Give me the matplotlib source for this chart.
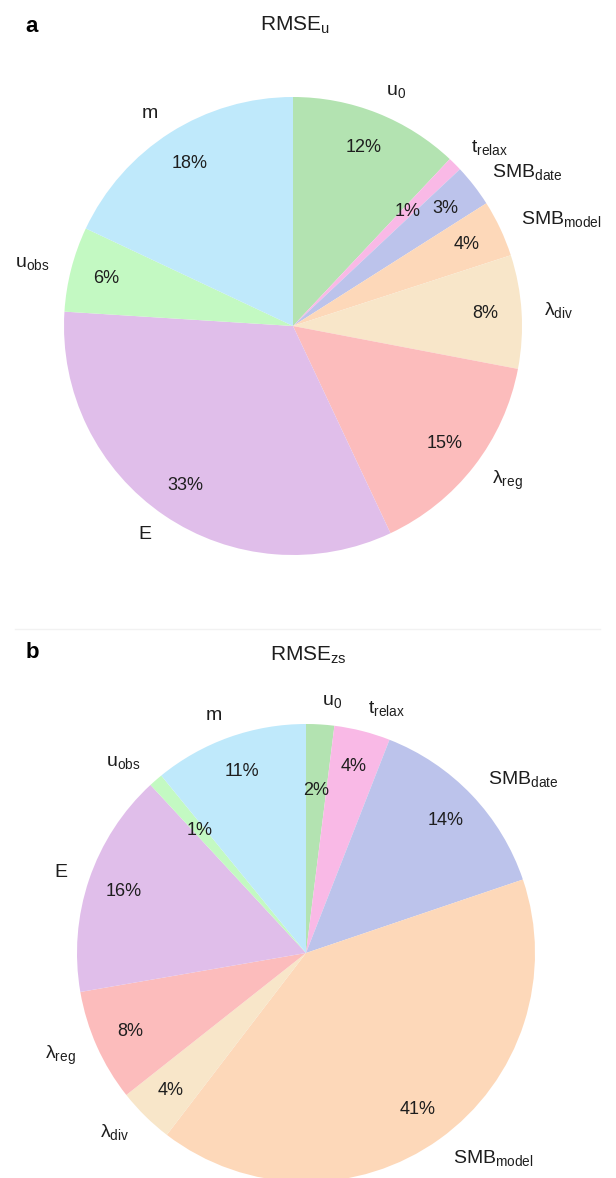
import matplotlib
matplotlib.use("Agg")
import matplotlib.pyplot as plt

plt.rcParams['font.family'] = ['Liberation Sans', 'DejaVu Sans']
plt.rcParams['mathtext.fontset'] = 'custom'
plt.rcParams['mathtext.rm'] = 'Liberation Sans'
plt.rcParams['mathtext.it'] = 'Liberation Sans:italic'
plt.rcParams['mathtext.bf'] = 'Liberation Sans:bold'

# ===================== data =====================
# order: clockwise from 12 o'clock
labels = [r'$\mathrm{u_0}$', r'$\mathrm{t_{relax}}$', r'$\mathrm{SMB_{date}}$',
          r'$\mathrm{SMB_{model}}$', r'$\mathrm{λ_{div}}$', r'$\mathrm{λ_{reg}}$',
          'E', r'$\mathrm{u_{obs}}$', 'm']
rmse_u = [12, 1, 3, 4, 8, 15, 33, 6, 18]
rmse_zs = [2, 4, 14, 41, 4, 8, 16, 1, 11]
colors = ['#b3e3b1', '#f9b9e6', '#bcc3eb', '#fdd8b9', '#f8e6c9',
          '#fcbcbc', '#e0beea', '#c3f9c2', '#bfe9fb']

TXT = '#1e1e1e'
W, H = 616, 1178
PCT_D = 0.84
PCT_D_SMALL = 0.71  # tiny slices get their % pulled inwards

fig = plt.figure(figsize=(W / 100, H / 100), dpi=100)


def px_axes(cx, cy, r):
    # axes placed by pixel centre/radius of the pie
    return fig.add_axes([(cx - r) / W, (H - cy - r) / H, 2 * r / W, 2 * r / H])


def draw_pie(ax, vals):
    wedges, texts, autotexts = ax.pie(
        vals, labels=labels, colors=colors, startangle=90, counterclock=False,
        autopct='%1.0f%%', pctdistance=PCT_D, labeldistance=1.1,
        textprops=dict(fontsize=14, color=TXT))
    tot = float(sum(vals))
    for t, v in zip(autotexts, vals):
        t.set_fontsize(13)
        if v / tot * 100 < 2.5:
            x, y = t.get_position()
            t.set_position((x * PCT_D_SMALL / PCT_D, y * PCT_D_SMALL / PCT_D))
    ax.set_xlim(-1, 1)
    ax.set_ylim(-1, 1)
    ax.set_aspect('auto')


ax1 = px_axes(293, 326, 229)
draw_pie(ax1, rmse_u)

ax2 = px_axes(306, 953, 229)
draw_pie(ax2, rmse_zs)

# titles / panel letters
fig.text(32 / W, 1 - 26 / H, 'a', fontsize=16, fontweight='bold', color='k',
         ha='center', va='center')
fig.text(295 / W, 1 - 25 / H, r'$\mathrm{RMSE_u}$', fontsize=15, color=TXT,
         ha='center', va='center')
fig.text(32 / W, 1 - 653 / H, 'b', fontsize=16, fontweight='bold', color='k',
         ha='center', va='center')
fig.text(308 / W, 1 - 655 / H, r'$\mathrm{RMSE_{zs}}$', fontsize=15, color=TXT,
         ha='center', va='center')

# faint separator between the two panels
fig.add_artist(plt.Line2D([15 / W, 600 / W], [1 - 629 / H, 1 - 629 / H],
                          color='#f2f2f2', lw=1))

plt.savefig('out.png', dpi=100)
